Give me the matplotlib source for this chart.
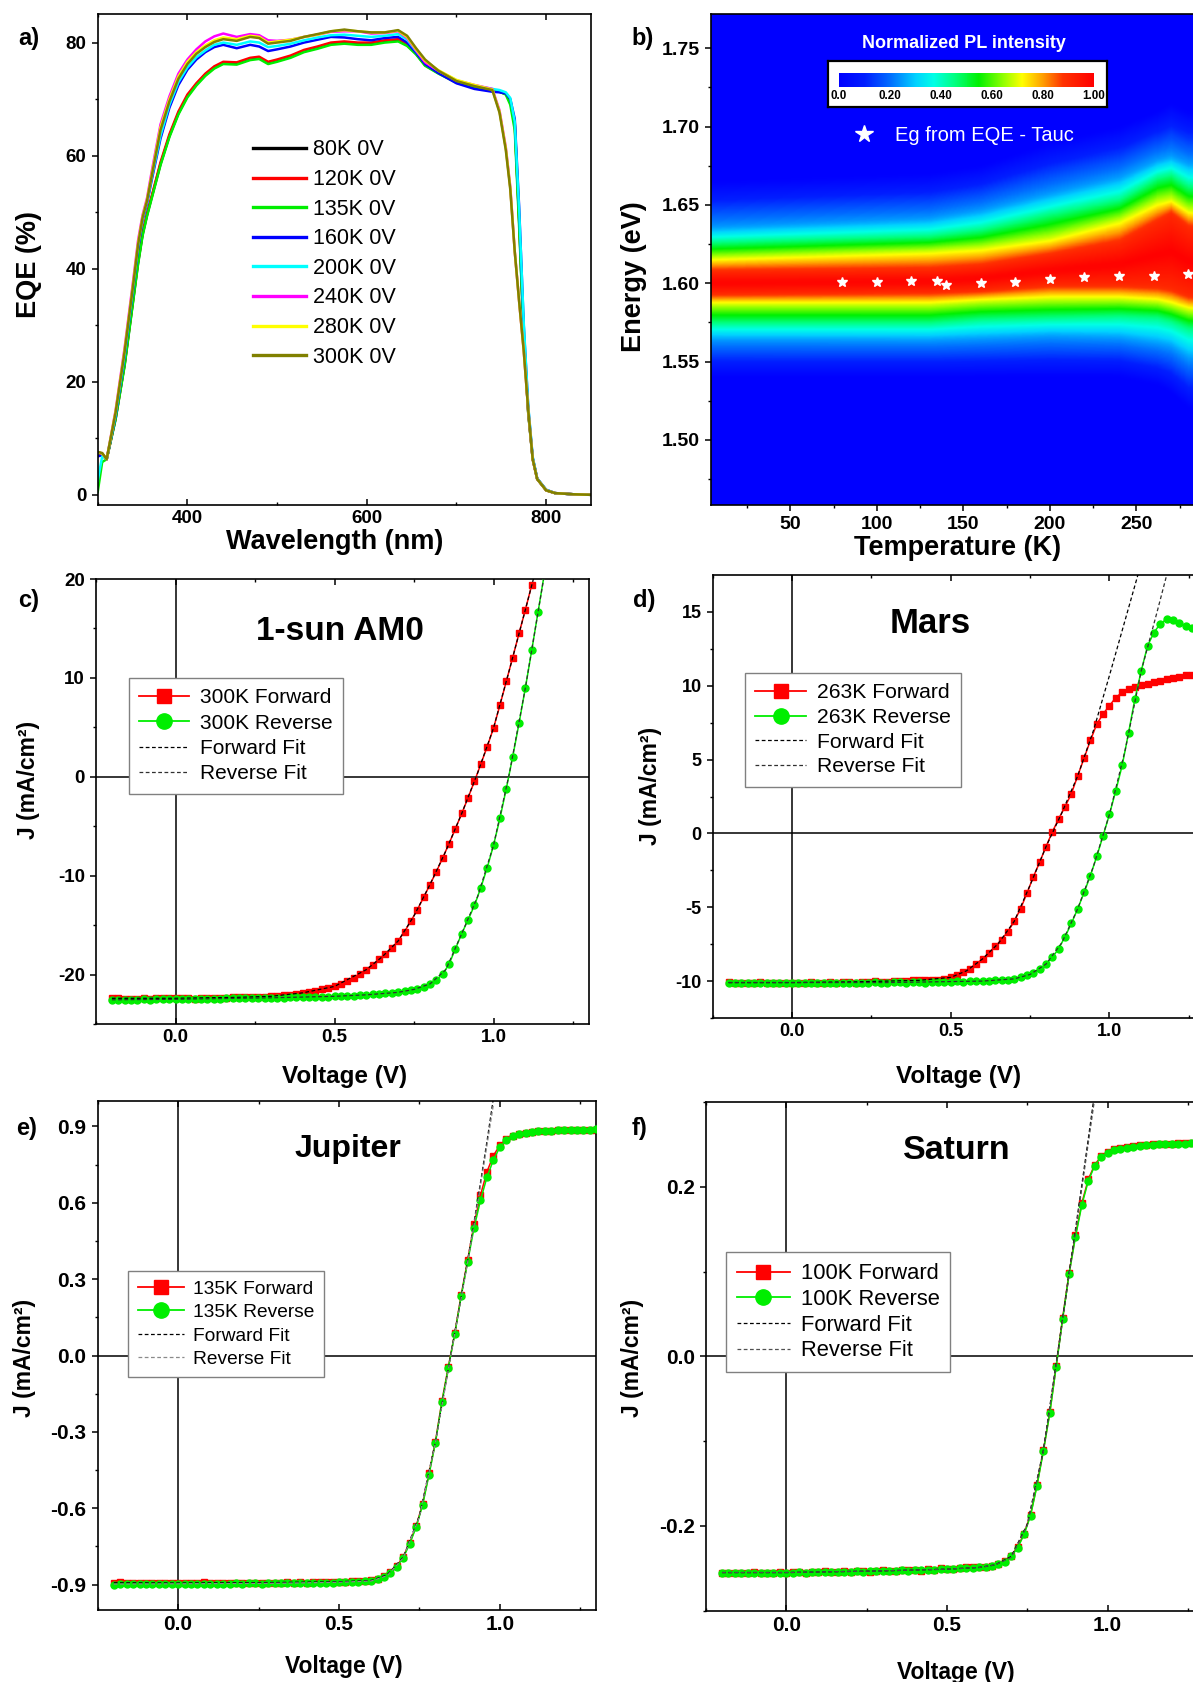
import numpy as np
import matplotlib
matplotlib.use("Agg")
import matplotlib.pyplot as plt
from matplotlib.colors import LinearSegmentedColormap
from matplotlib.lines import Line2D

plt.rcParams["font.family"] = ["Liberation Sans", "DejaVu Sans"]
plt.rcParams["axes.unicode_minus"] = False
plt.rcParams["axes.linewidth"] = 1.2

FIG_W, FIG_H = 1193, 1682

# ---------------------------------------------------------------- (a) EQE
wavelength = [300, 305, 310, 320, 330, 340, 345, 350, 355, 360, 370, 380, 390, 400,
              410, 420, 430, 440, 455, 470, 480, 490, 500, 515, 530, 545, 560, 575,
              590, 605, 620, 635, 645, 655, 665, 680, 700, 720, 740, 748, 755, 760,
              765, 770, 775, 780, 785, 790, 800, 810, 830, 850]
eqe_labels = ["80K 0V", "120K 0V", "135K 0V", "160K 0V",
              "200K 0V", "240K 0V", "280K 0V", "300K 0V"]
eqe_colors = ["#000000", "#ff0000", "#00ee00", "#0000ff",
              "#00ffff", "#ff00ff", "#ffff00", "#808000"]
eqe_80K = [7.4, 7.2, 6.3, 13.5, 23.0, 35.0, 41.0, 46.0, 49.5, 52.5, 58.5, 63.5, 67.5, 70.5,
           72.6, 74.3, 75.6, 76.4, 76.3, 77.1, 77.3, 76.4, 76.8, 77.5, 78.5, 79.1, 79.8, 80.0,
           79.8, 79.8, 80.2, 80.4, 79.6, 78.0, 76.0, 74.6, 73.0, 72.2, 71.5, 71.3, 70.9, 69.6,
           65.5, 48.0, 28.0, 14.5, 6.3, 2.8, 0.8, 0.3, 0.1, 0.0]
eqe_120K = [7.5, 7.3, 6.3, 13.6, 23.2, 35.3, 41.3, 46.3, 49.7, 52.7, 58.8, 63.8, 67.8, 70.8,
            72.8, 74.5, 75.8, 76.6, 76.5, 77.3, 77.5, 76.6, 77.0, 77.7, 78.7, 79.3, 80.0, 80.2,
            80.0, 80.0, 80.4, 80.6, 79.8, 78.1, 76.1, 74.7, 73.1, 72.3, 71.6, 71.4, 71.0, 69.8,
            65.8, 48.5, 28.3, 14.7, 6.4, 2.8, 0.8, 0.3, 0.1, 0.0]
eqe_135K = [0.5, 5.8, 6.3, 13.4, 22.8, 34.8, 40.8, 45.8, 49.3, 52.3, 58.3, 63.3, 67.3, 70.3,
            72.4, 74.1, 75.4, 76.2, 76.1, 76.9, 77.1, 76.2, 76.6, 77.3, 78.3, 78.9, 79.6, 79.8,
            79.6, 79.6, 80.0, 80.2, 79.4, 77.9, 75.9, 74.5, 72.9, 72.1, 71.6, 71.3, 70.8, 69.0,
            64.5, 47.0, 28.0, 14.6, 6.4, 2.8, 0.8, 0.3, 0.1, 0.0]
eqe_160K = [6.8, 7.0, 6.3, 14.0, 24.5, 37.0, 43.5, 48.5, 51.5, 55.5, 63.0, 68.5, 72.5, 75.2,
            77.0, 78.3, 79.2, 79.6, 79.0, 79.6, 79.3, 78.5, 78.8, 79.3, 80.0, 80.5, 81.0, 80.9,
            80.6, 80.4, 80.8, 81.0, 80.0, 78.2, 76.2, 74.6, 72.8, 71.8, 71.3, 71.2, 71.0, 70.0,
            66.5, 50.5, 30.0, 15.5, 6.6, 2.9, 0.9, 0.3, 0.1, 0.0]
eqe_200K = [2.5, 6.8, 6.3, 14.2, 24.8, 37.4, 43.9, 48.8, 51.8, 55.9, 63.5, 69.0, 73.0, 75.6,
            77.4, 78.6, 79.6, 80.0, 79.6, 80.2, 80.0, 79.2, 79.4, 79.8, 80.4, 80.9, 81.3, 81.4,
            81.2, 81.0, 81.2, 81.5, 80.5, 78.5, 76.6, 75.0, 73.3, 72.4, 71.8, 71.6, 71.2, 70.2,
            66.0, 50.0, 30.5, 15.8, 6.7, 2.9, 0.9, 0.3, 0.1, 0.0]
eqe_240K = [7.5, 7.3, 6.3, 15.0, 26.0, 38.5, 45.0, 49.5, 52.5, 57.0, 65.5, 70.5, 74.5, 77.0,
            78.8, 80.2, 81.1, 81.6, 81.0, 81.5, 81.3, 80.4, 80.3, 80.5, 81.0, 81.4, 81.9, 82.0,
            82.0, 81.6, 81.7, 82.0, 80.8, 78.6, 76.5, 75.0, 73.3, 72.5, 71.8, 68.0, 61.5, 54.5,
            43.0, 34.0, 25.5, 15.0, 6.3, 2.8, 0.8, 0.3, 0.1, 0.0]
eqe_280K = [7.5, 7.3, 6.3, 14.8, 25.6, 38.0, 44.5, 49.2, 52.2, 56.5, 65.0, 70.0, 74.0, 76.6,
            78.3, 79.5, 80.4, 80.9, 80.6, 81.2, 81.0, 80.0, 80.2, 80.5, 81.0, 81.4, 82.0, 82.2,
            82.0, 81.8, 81.8, 82.1, 81.0, 78.8, 76.8, 75.1, 73.4, 72.5, 71.7, 67.8, 61.3, 54.3,
            43.0, 34.0, 25.5, 15.0, 6.3, 2.8, 0.8, 0.3, 0.1, 0.0]
eqe_300K = [7.6, 7.4, 6.3, 14.6, 25.3, 37.7, 44.2, 49.0, 52.0, 56.2, 64.5, 69.6, 73.6, 76.2,
            78.0, 79.2, 80.1, 80.6, 80.3, 81.0, 80.8, 79.8, 80.0, 80.3, 81.0, 81.5, 82.0, 82.3,
            82.0, 81.8, 81.8, 82.2, 81.2, 79.0, 77.0, 75.0, 73.2, 72.3, 71.6, 67.6, 61.0, 54.0,
            43.0, 34.0, 25.5, 15.0, 6.3, 2.8, 0.8, 0.3, 0.1, 0.0]
eqe_series = [eqe_80K, eqe_120K, eqe_135K, eqe_160K, eqe_200K, eqe_240K, eqe_280K, eqe_300K]

# ---------------------------------------------------------------- (b) PL map
# Peak energy and the energies where the normalised PL falls to 0.9, 0.7, 0.45, 0.25, 0
pl_T = [4, 130, 160, 200, 240, 262, 270, 280, 300]
pl_peak = [1.600, 1.601, 1.603, 1.608, 1.612, 1.618, 1.620, 1.614, 1.611]
pl_levels = [0.9, 0.7, 0.45, 0.25, 0.0]
pl_hi = [
    [1.6076, 1.6156, 1.6259, 1.6350, 1.665],
    [1.6088, 1.6200, 1.6300, 1.6407, 1.670],
    [1.6110, 1.6220, 1.6340, 1.6460, 1.675],
    [1.6180, 1.6280, 1.6440, 1.6566, 1.690],
    [1.6260, 1.6395, 1.6530, 1.6670, 1.700],
    [1.6395, 1.6510, 1.6670, 1.6780, 1.710],
    [1.6445, 1.6530, 1.6690, 1.6805, 1.715],
    [1.6360, 1.6460, 1.6620, 1.6760, 1.710],
    [1.6320, 1.6430, 1.6600, 1.6750, 1.710],
]
pl_lo = [
    [1.5928, 1.5871, 1.5746, 1.5643, 1.540],
    [1.5940, 1.5870, 1.5746, 1.5640, 1.540],
    [1.5950, 1.5890, 1.5770, 1.5650, 1.540],
    [1.5985, 1.5905, 1.5780, 1.5666, 1.540],
    [1.5985, 1.5905, 1.5790, 1.5655, 1.540],
    [1.5974, 1.5890, 1.5780, 1.5620, 1.535],
    [1.5960, 1.5870, 1.5757, 1.5600, 1.530],
    [1.5917, 1.5837, 1.5712, 1.5530, 1.520],
    [1.5900, 1.5810, 1.5680, 1.5500, 1.515],
]
eg_T = [80, 100, 120, 135, 140, 160, 180, 200, 220, 240, 260, 280]
eg_E = [1.6008, 1.6010, 1.6015, 1.6015, 1.5988, 1.6000, 1.6010, 1.6026, 1.6040,
        1.6045, 1.6045, 1.6060]
cbar_ticks = [0.0, 0.2, 0.4, 0.6, 0.8, 1.0]
cbar_ticklabels = ["0.0", "0.20", "0.40", "0.60", "0.80", "1.00"]

# ---------------------------------------------------------------- (c-f) J-V
V_SWEEP = [-0.20, -0.18, -0.16, -0.14, -0.12, -0.10, -0.08, -0.06, -0.04, -0.02,
           0.00, 0.02, 0.04, 0.06, 0.08, 0.10, 0.12, 0.14, 0.16, 0.18,
           0.20, 0.22, 0.24, 0.26, 0.28, 0.30, 0.32, 0.34, 0.36, 0.38,
           0.40, 0.42, 0.44, 0.46, 0.48, 0.50, 0.52, 0.54, 0.56, 0.58,
           0.60, 0.62, 0.64, 0.66, 0.68, 0.70, 0.72, 0.74, 0.76, 0.78,
           0.80, 0.82, 0.84, 0.86, 0.88, 0.90, 0.92, 0.94, 0.96, 0.98,
           1.00, 1.02, 1.04, 1.06, 1.08, 1.10, 1.12, 1.14, 1.16, 1.18,
           1.20, 1.22, 1.24, 1.26, 1.28, 1.30]

# 1-sun AM0, 300 K
am0_fwd = [-22.35, -22.40, -22.45, -22.45, -22.45, -22.40, -22.45, -22.40, -22.40, -22.40,
           -22.35, -22.40, -22.40, -22.45, -22.40, -22.40, -22.35, -22.35, -22.35, -22.30,
           -22.30, -22.30, -22.30, -22.25, -22.25, -22.20, -22.15, -22.10, -22.05, -21.95,
           -21.85, -21.75, -21.65, -21.50, -21.35, -21.20, -20.95, -20.70, -20.35, -19.95,
           -19.50, -19.00, -18.45, -17.90, -17.30, -16.60, -15.65, -14.60, -13.45, -12.20,
           -10.90, -9.60, -8.20, -6.75, -5.25, -3.70, -2.10, -0.45, 1.30, 3.05,
           4.95, 7.25, 9.65, 12.05, 14.50, 16.90, 19.40]
am0_rev = [-22.60, -22.55, -22.60, -22.55, -22.55, -22.50, -22.55, -22.50, -22.50, -22.50,
           -22.50, -22.50, -22.45, -22.50, -22.45, -22.45, -22.45, -22.45, -22.40, -22.40,
           -22.40, -22.40, -22.40, -22.40, -22.35, -22.35, -22.35, -22.35, -22.30, -22.30,
           -22.30, -22.30, -22.25, -22.25, -22.25, -22.20, -22.20, -22.20, -22.15, -22.10,
           -22.05, -22.00, -21.95, -21.90, -21.85, -21.80, -21.70, -21.60, -21.45, -21.25,
           -20.95, -20.55, -19.95, -18.95, -17.40, -15.85, -14.45, -13.00, -11.20, -9.20,
           -6.90, -4.20, -1.20, 2.00, 5.40, 9.00, 12.80, 16.70, 20.60]
am0_fit_fwd_V = [-0.2, 0.0, 0.2, 0.3, 0.4, 0.5, 0.6, 0.65, 0.7, 0.75, 0.8, 0.85, 0.9, 0.95,
                 1.0, 1.05, 1.1, 1.13]
am0_fit_fwd_J = [-22.4, -22.4, -22.3, -22.2, -21.85, -21.2, -19.5, -18.2, -16.6, -14.05,
                 -10.9, -7.5, -3.7, 0.4, 4.95, 10.85, 16.9, 20.6]
am0_fit_rev_V = [-0.2, 0.0, 0.3, 0.5, 0.6, 0.7, 0.75, 0.8, 0.85, 0.9, 0.95, 1.0, 1.05,
                 1.1, 1.15, 1.17]
am0_fit_rev_J = [-22.55, -22.5, -22.35, -22.2, -22.05, -21.8, -21.5, -20.95, -19.5, -15.85,
                 -12.1, -6.9, 0.4, 9.0, 18.6, 22.5]

# Mars, 263 K
mars_fwd = [-10.05, -10.10, -10.15, -10.10, -10.10, -10.05, -10.10, -10.15, -10.10, -10.10,
            -10.10, -10.15, -10.10, -10.05, -10.10, -10.10, -10.05, -10.10, -10.05, -10.05,
            -10.10, -10.05, -10.05, -10.00, -10.05, -10.05, -10.00, -10.00, -10.00, -9.95,
            -9.95, -9.95, -9.90, -9.90, -9.85, -9.75, -9.60, -9.40, -9.15, -8.85,
            -8.50, -8.10, -7.65, -7.20, -6.65, -5.95, -5.10, -4.05, -2.95, -1.95,
            -0.90, 0.10, 1.00, 1.80, 2.70, 3.90, 5.10, 6.30, 7.40, 8.10,
            8.65, 9.20, 9.55, 9.75, 9.90, 10.05, 10.15, 10.25, 10.35, 10.45,
            10.55, 10.60, 10.70, 10.75, 10.85, 10.90]
mars_rev = [-10.15, -10.10, -10.15, -10.10, -10.15, -10.10, -10.15, -10.10, -10.10, -10.15,
            -10.10, -10.15, -10.10, -10.10, -10.10, -10.15, -10.10, -10.10, -10.10, -10.10,
            -10.10, -10.10, -10.10, -10.05, -10.10, -10.10, -10.05, -10.05, -10.10, -10.05,
            -10.05, -10.10, -10.05, -10.05, -10.05, -10.05, -10.00, -10.05, -10.00, -10.00,
            -10.00, -10.00, -9.95, -9.95, -9.90, -9.85, -9.75, -9.60, -9.45, -9.20,
            -8.85, -8.40, -7.80, -7.00, -6.10, -5.10, -4.00, -2.85, -1.55, -0.15,
            1.30, 2.90, 4.60, 6.80, 9.10, 11.00, 12.70, 13.60, 14.20, 14.50,
            14.45, 14.25, 14.05, 13.90, 13.75, 13.65]
mars_fit_fwd_V = [-0.2, 0.0, 0.2, 0.4, 0.5, 0.55, 0.6, 0.65, 0.7, 0.75, 0.8, 0.85, 0.9,
                  0.95, 1.0, 1.05, 1.1]
mars_fit_fwd_J = [-10.1, -10.1, -10.05, -9.95, -9.75, -9.3, -8.5, -7.45, -5.95, -3.5, -0.9,
                  1.4, 3.9, 7.0, 10.7, 14.5, 18.3]
mars_fit_rev_V = [-0.2, 0.0, 0.3, 0.6, 0.7, 0.75, 0.8, 0.85, 0.9, 0.95, 1.0, 1.05, 1.1,
                  1.15, 1.19]
mars_fit_rev_J = [-10.1, -10.1, -10.1, -10.0, -9.85, -9.55, -8.85, -7.4, -5.1, -2.2, 1.3,
                  5.7, 11.0, 15.0, 18.3]

# Jupiter, 135 K
jup_fwd = [-0.893, -0.891, -0.892, -0.894, -0.893, -0.895, -0.894, -0.893, -0.895, -0.894,
           -0.894, -0.895, -0.894, -0.893, -0.891, -0.894, -0.893, -0.894, -0.893, -0.892,
           -0.893, -0.892, -0.894, -0.893, -0.892, -0.893, -0.892, -0.891, -0.892, -0.891,
           -0.892, -0.891, -0.890, -0.891, -0.890, -0.889, -0.889, -0.888, -0.887, -0.885,
           -0.883, -0.877, -0.868, -0.852, -0.827, -0.790, -0.736, -0.670, -0.583, -0.463,
           -0.338, -0.180, -0.045, 0.087, 0.238, 0.374, 0.516, 0.630, 0.722, 0.785,
           0.826, 0.850, 0.863, 0.870, 0.875, 0.879, 0.881, 0.883, 0.884, 0.885,
           0.886, 0.886, 0.887, 0.887, 0.888, 0.888]
jup_rev = [-0.900, -0.899, -0.898, -0.899, -0.898, -0.897, -0.898, -0.897, -0.897, -0.898,
           -0.897, -0.897, -0.896, -0.897, -0.896, -0.896, -0.897, -0.896, -0.896, -0.895,
           -0.896, -0.895, -0.895, -0.896, -0.895, -0.895, -0.894, -0.895, -0.894, -0.894,
           -0.894, -0.893, -0.893, -0.892, -0.892, -0.891, -0.891, -0.890, -0.889, -0.887,
           -0.885, -0.879, -0.870, -0.855, -0.831, -0.794, -0.740, -0.674, -0.588, -0.468,
           -0.342, -0.184, -0.048, 0.084, 0.233, 0.368, 0.502, 0.610, 0.700, 0.768,
           0.818, 0.847, 0.862, 0.869, 0.874, 0.878, 0.881, 0.883, 0.884, 0.885,
           0.886, 0.887, 0.887, 0.888, 0.888, 0.889]
jup_fit_V = [-0.2, 0.0, 0.3, 0.5, 0.6, 0.65, 0.7, 0.75, 0.8, 0.85, 0.9, 0.92, 0.94, 0.96, 0.98]
jup_fit_fwd_J = [-0.893, -0.894, -0.892, -0.889, -0.884, -0.862, -0.792, -0.630, -0.338,
                 0.020, 0.372, 0.525, 0.680, 0.840, 1.010]
jup_fit_rev_J = [-0.898, -0.897, -0.895, -0.891, -0.886, -0.865, -0.795, -0.634, -0.342,
                 0.016, 0.366, 0.515, 0.668, 0.825, 0.985]

# Saturn, 100 K
sat_fwd = [-0.255, -0.256, -0.255, -0.256, -0.255, -0.254, -0.255, -0.256, -0.255, -0.254,
           -0.255, -0.254, -0.254, -0.255, -0.254, -0.254, -0.253, -0.254, -0.254, -0.253,
           -0.254, -0.253, -0.253, -0.254, -0.253, -0.252, -0.253, -0.253, -0.252, -0.252,
           -0.252, -0.253, -0.251, -0.252, -0.250, -0.251, -0.251, -0.250, -0.249, -0.249,
           -0.249, -0.248, -0.247, -0.245, -0.241, -0.235, -0.225, -0.209, -0.187, -0.152,
           -0.111, -0.066, -0.011, 0.045, 0.098, 0.143, 0.181, 0.209, 0.226, 0.236,
           0.241, 0.244, 0.246, 0.247, 0.248, 0.249, 0.249, 0.250, 0.250, 0.251,
           0.251, 0.252, 0.252, 0.252, 0.252, 0.253]
sat_rev = [-0.256, -0.255, -0.256, -0.255, -0.255, -0.255, -0.256, -0.255, -0.255, -0.255,
           -0.255, -0.255, -0.254, -0.255, -0.254, -0.254, -0.254, -0.254, -0.254, -0.254,
           -0.254, -0.253, -0.254, -0.253, -0.253, -0.253, -0.253, -0.253, -0.252, -0.253,
           -0.252, -0.252, -0.252, -0.252, -0.251, -0.251, -0.251, -0.250, -0.250, -0.250,
           -0.249, -0.248, -0.247, -0.245, -0.242, -0.236, -0.226, -0.210, -0.188, -0.153,
           -0.112, -0.067, -0.012, 0.044, 0.097, 0.141, 0.179, 0.207, 0.225, 0.235,
           0.240, 0.243, 0.245, 0.246, 0.247, 0.248, 0.249, 0.249, 0.250, 0.250,
           0.251, 0.251, 0.251, 0.252, 0.252, 0.252]
sat_fit_V = [-0.2, 0.0, 0.3, 0.5, 0.6, 0.65, 0.7, 0.75, 0.8, 0.85, 0.88, 0.9, 0.92, 0.94, 0.96]
sat_fit_fwd_J = [-0.255, -0.255, -0.253, -0.251, -0.249, -0.246, -0.236, -0.198, -0.111,
                 0.018, 0.098, 0.150, 0.203, 0.257, 0.312]
sat_fit_rev_J = [-0.255, -0.255, -0.253, -0.251, -0.249, -0.246, -0.237, -0.199, -0.112,
                 0.016, 0.096, 0.147, 0.199, 0.252, 0.305]

FWD_COLOR = "#ff0000"
REV_COLOR = "#00ee00"

fig = plt.figure(figsize=(FIG_W / 100, FIG_H / 100), dpi=100)


def px_axes(left, top, right, bottom, **kw):
    return fig.add_axes([left / FIG_W, 1 - bottom / FIG_H,
                         (right - left) / FIG_W, (bottom - top) / FIG_H], **kw)


def px_text(x, y, s, **kw):
    return fig.text(x / FIG_W, 1 - y / FIG_H, s, **kw)


def place_labels(ax, xlabel, xpos, ylabel, ypos, xsize, ysize):
    ax.set_xlabel(xlabel, fontsize=xsize, fontweight="bold")
    ax.xaxis.set_label_coords(xpos[0] / FIG_W, 1 - xpos[1] / FIG_H, transform=fig.transFigure)
    ax.xaxis.label.set_verticalalignment("center")
    ax.set_ylabel(ylabel, fontsize=ysize, fontweight="bold")
    ax.yaxis.set_label_coords(ypos[0] / FIG_W, 1 - ypos[1] / FIG_H, transform=fig.transFigure)
    ax.yaxis.label.set_verticalalignment("center")


def style_ticks(ax, xin=True):
    ax.tick_params(axis="both", which="major", length=4.5, width=1.1)
    ax.tick_params(axis="both", which="minor", length=2.5, width=1.0)
    ax.tick_params(axis="y", which="both", direction="out", left=True, right=False)
    if xin:
        ax.tick_params(axis="x", which="both", direction="in", top=True, bottom=True)
    else:
        ax.tick_params(axis="x", which="both", direction="out", top=False, bottom=True)


# ---------------------------------------------------------------- panel a
axA = px_axes(97.7, 14.3, 591, 505)
for lab, col, vals in zip(eqe_labels, eqe_colors, eqe_series):
    axA.plot(wavelength, vals, color=col, lw=1.8, label=lab)
axA.set_xlim(300, 850)
axA.set_ylim(-1.8, 85)
axA.set_xticks([400, 600, 800], ["400", "600", "800"], fontsize=13.5, fontweight="bold")
axA.set_xticks([300, 500, 700], minor=True)
axA.set_yticks([0, 20, 40, 60, 80], ["0", "20", "40", "60", "80"], fontsize=13.5,
               fontweight="bold")
axA.set_yticks([10, 30, 50, 70], minor=True)
style_ticks(axA, xin=True)
place_labels(axA, "Wavelength (nm)", (335, 541.7), "EQE (%)", (28.7, 264.3), 19.5, 19.5)
axA.legend(loc="upper left", bbox_to_anchor=(0.314, 0.745), borderaxespad=0, borderpad=0,
           frameon=False, fontsize=15.5, handlelength=2.5, handletextpad=0.3,
           labelspacing=0.40)
for ln in axA.get_legend().get_lines():
    ln.set_linewidth(2.4)

# ---------------------------------------------------------------- panel b
pl_cmap = LinearSegmentedColormap.from_list("pl", [
    (0.00, "#0000ff"), (0.10, "#001eff"), (0.20, "#006eff"), (0.30, "#00d2ff"),
    (0.37, "#00ffe6"), (0.45, "#00ff82"), (0.55, "#00f000"), (0.65, "#96ff00"),
    (0.72, "#ffff00"), (0.80, "#ffa000"), (0.88, "#ff3200"), (1.00, "#ff0000")])

hi_arr = np.array(pl_hi)
lo_arr = np.array(pl_lo)
E_grid = np.linspace(1.44, 1.79, 701)
T_grid = np.linspace(pl_T[0], pl_T[-1], 297)
pl_map = np.zeros((E_grid.size, T_grid.size))
prof_levels = [0.0, 0.25, 0.45, 0.7, 0.9, 1.0, 0.9, 0.7, 0.45, 0.25, 0.0]
for j, t in enumerate(T_grid):
    peak = np.interp(t, pl_T, pl_peak)
    hi = [np.interp(t, pl_T, hi_arr[:, i]) for i in range(len(pl_levels))]
    lo = [np.interp(t, pl_T, lo_arr[:, i]) for i in range(len(pl_levels))]
    pl_map[:, j] = np.interp(E_grid, lo[::-1] + [peak] + hi, prof_levels)
kernel = np.ones(9) / 9.0
pl_map = np.apply_along_axis(lambda c: np.convolve(c, kernel, mode="same"), 0, pl_map)

axB = px_axes(710.7, 14.3, 1222.8, 505)
im = axB.imshow(pl_map, extent=[T_grid[0], T_grid[-1], E_grid[0], E_grid[-1]],
                origin="lower", aspect="auto", cmap=pl_cmap, vmin=0, vmax=1,
                interpolation="bilinear")
axB.plot(eg_T, eg_E, ls="none", marker="*", color="white", ms=7.5, mec="white",
         label="Eg from EQE - Tauc")
axB.set_xlim(4, 300)
axB.set_ylim(1.4585, 1.7717)
axB.set_xticks([50, 100, 150, 200, 250], ["50", "100", "150", "200", "250"],
               fontsize=14, fontweight="bold")
axB.set_xticks([25, 75, 125, 175, 225, 275], minor=True)
axB.set_yticks([1.50, 1.55, 1.60, 1.65, 1.70, 1.75],
               ["1.50", "1.55", "1.60", "1.65", "1.70", "1.75"], fontsize=14,
               fontweight="bold")
axB.set_yticks([1.475, 1.525, 1.575, 1.625, 1.675, 1.725], minor=True)
style_ticks(axB, xin=False)
place_labels(axB, "Temperature (K)", (957.7, 547.7), "Energy (eV)", (634, 276.8), 19.5, 19.5)
star_leg = axB.legend(
    handles=[Line2D([], [], ls="none", marker="*", color="white", mec="white", ms=13)],
    labels=["Eg from EQE - Tauc"], loc="center left", bbox_to_anchor=(0.280, 0.7526),
    borderaxespad=0, borderpad=0, frameon=False, fontsize=14.5, handlelength=1.0,
    handletextpad=1.05)
for txt in star_leg.get_texts():
    txt.set_color("white")
px_text(963.8, 43.6, "Normalized PL intensity", color="white", fontsize=13,
        fontweight="bold", ha="center", va="center")

box = px_axes(828, 61.4, 1107, 107)
box.set_xticks([])
box.set_yticks([])
box.set_facecolor("white")
for sp in box.spines.values():
    sp.set_linewidth(1.6)
cax = px_axes(839, 72.5, 1094, 86.8)
cb = fig.colorbar(im, cax=cax, orientation="horizontal", ticks=cbar_ticks)
cb.outline.set_visible(False)
cb.set_ticklabels(cbar_ticklabels, fontsize=8.4, fontweight="bold")
cax.tick_params(length=0, pad=2.5)


# ---------------------------------------------------------------- panels c-f
def jv_panel(rect, fwd, rev, fit_f, fit_r, ylim, yticks, ylabels, yminor, tick_fs,
             xlabel_fs, ylabel_fs, xlabel_pos, ylabel_pos, title, title_xy, title_fs,
             temp, leg_anchor, leg_fs, leg_spacing, rev_fit_color):
    ax = px_axes(*rect)
    ax.axhline(0, color="black", lw=1.1, zorder=1)
    ax.axvline(0, color="black", lw=1.1, zorder=1)
    ax.plot(V_SWEEP[:len(fwd)], fwd, color=FWD_COLOR, lw=1.1, marker="s", ms=4.6,
            mec=FWD_COLOR, zorder=2)
    ax.plot(V_SWEEP[:len(rev)], rev, color=REV_COLOR, lw=1.1, marker="o", ms=5.0,
            mec=REV_COLOR, zorder=3)
    ax.plot(fit_f[0], fit_f[1], color="black", lw=0.9, ls=(0, (3, 2)), zorder=4)
    ax.plot(fit_r[0], fit_r[1], color=rev_fit_color, lw=0.9, ls=(0, (3, 2)), zorder=4)
    ax.set_xlim(-0.2, 1.3)
    ax.set_ylim(*ylim)
    ax.set_xticks([0.0, 0.5, 1.0], ["0.0", "0.5", "1.0"], fontsize=tick_fs, fontweight="bold")
    ax.set_xticks([-0.25, 0.25, 0.75, 1.25], minor=True)
    ax.set_yticks(yticks, ylabels, fontsize=tick_fs, fontweight="bold")
    ax.set_yticks(yminor, minor=True)
    style_ticks(ax, xin=True)
    place_labels(ax, "Voltage (V)", xlabel_pos, "J (mA/cm²)", ylabel_pos, xlabel_fs,
                 ylabel_fs)
    px_text(title_xy[0], title_xy[1], title, fontsize=title_fs, fontweight="bold",
            ha="center", va="baseline")
    handles = [
        Line2D([], [], color=FWD_COLOR, lw=1.3, marker="s", ms=10, mec=FWD_COLOR),
        Line2D([], [], color=REV_COLOR, lw=1.3, marker="o", ms=11, mec=REV_COLOR),
        Line2D([], [], color="black", lw=0.9, ls=(0, (3, 2))),
        Line2D([], [], color=rev_fit_color, lw=0.9, ls=(0, (3, 2))),
    ]
    labels = [f"{temp} Forward", f"{temp} Reverse", "Forward Fit", "Reverse Fit"]
    leg = ax.legend(handles, labels, loc="upper left", bbox_to_anchor=leg_anchor,
                    borderaxespad=0, borderpad=0.5, fontsize=leg_fs, handlelength=2.4,
                    handletextpad=0.5, labelspacing=leg_spacing, fancybox=False,
                    framealpha=1, edgecolor="#808080")
    leg.get_frame().set_linewidth(1.0)
    return ax


jv_panel((96, 579, 589, 1024), am0_fwd, am0_rev,
         (am0_fit_fwd_V, am0_fit_fwd_J), (am0_fit_rev_V, am0_fit_rev_J),
         (-25, 20), [-20, -10, 0, 10, 20], ["-20", "-10", "0", "10", "20"],
         [-25, -15, -5, 5, 15], 13.5, 17.5, 16.5, (345, 1076.7), (28.7, 780),
         "1-sun AM0", (339.6, 639.6), 24, "300K", (0.0669, 0.7782), 15, 0.31, "#303030")

jv_panel((712.7, 575, 1204.7, 1018), mars_fwd, mars_rev,
         (mars_fit_fwd_V, mars_fit_fwd_J), (mars_fit_rev_V, mars_fit_rev_J),
         (-12.5, 17.5), [-10, -5, 0, 5, 10, 15], ["-10", "-5", "0", "5", "10", "15"],
         [-12.5, -7.5, -2.5, 2.5, 7.5, 12.5], 13, 17.5, 16.5, (959, 1076.5), (651, 785.5),
         "Mars", (930, 633), 25, "263K", (0.0654, 0.7792), 15.2, 0.27, "#303030")

jv_panel((97.7, 1101, 596.3, 1610), jup_fwd, jup_rev,
         (jup_fit_V, jup_fit_fwd_J), (jup_fit_V, jup_fit_rev_J),
         (-1.0, 1.0), [-0.9, -0.6, -0.3, 0.0, 0.3, 0.6, 0.9],
         ["-0.9", "-0.6", "-0.3", "0.0", "0.3", "0.6", "0.9"],
         [-0.75, -0.45, -0.15, 0.15, 0.45, 0.75], 15, 16.5, 16.5, (344, 1666.7),
         (24.9, 1358), "Jupiter", (348.3, 1156.7), 23, "135K", (0.0608, 0.6664), 13.8,
         0.31, "#8a8a8a")

jv_panel((706, 1102, 1204, 1610.7), sat_fwd, sat_rev,
         (sat_fit_V, sat_fit_fwd_J), (sat_fit_V, sat_fit_rev_J),
         (-0.3, 0.3), [-0.2, 0.0, 0.2], ["-0.2", "0.0", "0.2"],
         [-0.3, -0.1, 0.1, 0.3], 15, 16.5, 16.5, (955.8, 1673), (632, 1358.3),
         "Saturn", (956.7, 1158.6), 24.5, "100K", (0.0402, 0.7043), 15.8, 0.21, "#505050")

# panel letters
for letter, (lx, ly) in {"a)": (28.5, 38), "b)": (642.6, 38), "c)": (28.7, 601),
                         "d)": (643.7, 601), "e)": (26.8, 1129), "f)": (639.7, 1128)}.items():
    px_text(lx, ly, letter, fontsize=17, fontweight="bold", ha="center", va="center")

fig.savefig("out.png", dpi=100)
